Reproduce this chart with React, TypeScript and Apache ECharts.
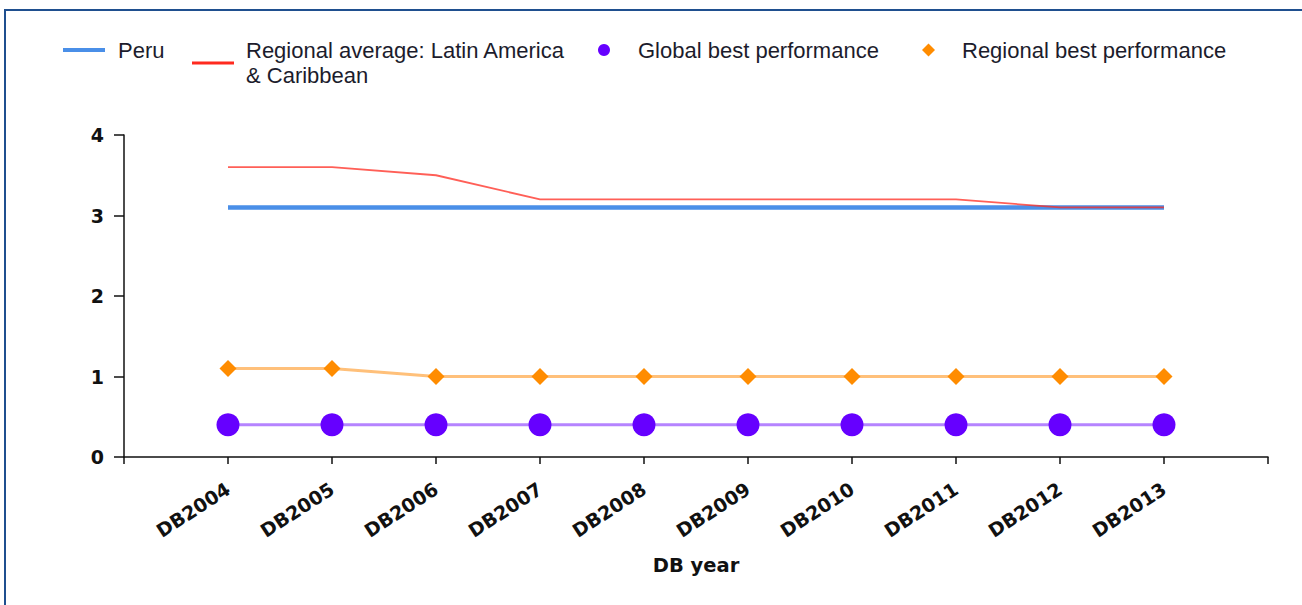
import React, { useEffect, useRef } from "react";
import * as echarts from "echarts";

const categories = ["DB2004", "DB2005", "DB2006", "DB2007", "DB2008", "DB2009", "DB2010", "DB2011", "DB2012", "DB2013"];
const peru = [3.1, 3.1, 3.1, 3.1, 3.1, 3.1, 3.1, 3.1, 3.1, 3.1];
const regionalAverage = [3.6, 3.6, 3.5, 3.2, 3.2, 3.2, 3.2, 3.2, 3.1, 3.1];
const globalBest = [0.4, 0.4, 0.4, 0.4, 0.4, 0.4, 0.4, 0.4, 0.4, 0.4];
const regionalBest = [1.1, 1.1, 1.0, 1.0, 1.0, 1.0, 1.0, 1.0, 1.0, 1.0];
const yTicks = [0, 1, 2, 3, 4];

const pad = (a: number[]) => ["-", ...a, "-"] as any[];

export default function App() {
  const ref = useRef<HTMLDivElement>(null);
  useEffect(() => {
    document.body.style.margin = "0";
    const chart = echarts.init(ref.current!, undefined, { renderer: "svg" });
    const legendFont = { fontFamily: "Liberation Sans", fontSize: 22, color: "#1c1c2c" };
    chart.setOption({
      animation: false,
      backgroundColor: "#ffffff",
      graphic: [
        {
          type: "rect",
          shape: { x: 5, y: 10, width: 1400, height: 700 },
          style: { fill: "none", stroke: "#1f4f8f", lineWidth: 2 },
          silent: true,
        },
      ],
      legend: [
        {
          data: ["Peru"], left: 63, top: 39, padding: 0, icon: "rect", itemWidth: 42, itemHeight: 4,
          textStyle: { ...legendFont, padding: [0, 0, 0, 8] },
        },
        {
          data: ["Regional average: Latin America\n& Caribbean"], left: 192, top: 38, padding: 0, icon: "rect", itemWidth: 42, itemHeight: 3,
          textStyle: { ...legendFont, lineHeight: 25, padding: [0, 0, 0, 7] },
        },
        {
          data: ["Global best performance"], left: 598, top: 39, padding: 0, icon: "circle", itemWidth: 12, itemHeight: 12,
          textStyle: { ...legendFont, padding: [0, 0, 0, 23] },
        },
        {
          data: ["Regional best performance"], left: 922, top: 39, padding: 0, icon: "diamond", itemWidth: 13, itemHeight: 13,
          textStyle: { ...legendFont, padding: [0, 0, 0, 22] },
        },
      ],
      grid: { left: 124, right: 34, top: 135, bottom: 148, containLabel: false },
      xAxis: {
        type: "category",
        boundaryGap: false,
        data: ["", ...categories, ""],
        name: "DB year",
        nameLocation: "middle",
        nameGap: 98,
        nameMoveOverlap: false,
        nameTextStyle: { fontFamily: "DejaVu Sans", fontWeight: "bold", fontSize: 19.5, color: "#111" },
        axisLine: { lineStyle: { color: "#111", width: 1.5 } },
        axisTick: { show: true, interval: 0, length: 7, lineStyle: { color: "#111", width: 1.5 } },
        axisLabel: {
          interval: 0, rotate: 33, margin: 30,
          fontFamily: "DejaVu Sans", fontWeight: "bold", fontSize: 19, color: "#111",
        },
        splitLine: { show: false },
      },
      yAxis: {
        type: "value",
        min: yTicks[0],
        max: yTicks[yTicks.length - 1],
        interval: 1,
        axisLine: { show: true, lineStyle: { color: "#111", width: 1.5 } },
        axisTick: { show: true, length: 10, lineStyle: { color: "#111", width: 1.5 } },
        axisLabel: { margin: 20, fontFamily: "DejaVu Sans", fontWeight: "bold", fontSize: 19, color: "#111" },
        splitLine: { show: false },
      },
      series: [
        {
          name: "Global best performance",
          type: "line",
          data: pad(globalBest),
          symbol: "circle",
          symbolSize: 23,
          itemStyle: { color: "#6600ff" },
          lineStyle: { color: "#b584ff", width: 3 },
        },
        {
          name: "Regional best performance",
          type: "line",
          data: pad(regionalBest),
          symbol: "diamond",
          symbolSize: 17,
          itemStyle: { color: "#ff8c00" },
          lineStyle: { color: "#ffc07a", width: 3 },
        },
        {
          name: "Peru",
          type: "line",
          data: pad(peru),
          symbol: "none",
          itemStyle: { color: "#4a8fe8" },
          lineStyle: { color: "#4a8fe8", width: 4.5 },
        },
        {
          name: "Regional average: Latin America\n& Caribbean",
          type: "line",
          data: pad(regionalAverage),
          symbol: "none",
          itemStyle: { color: "#ff2a1f" },
          lineStyle: { color: "#ff2a1f", width: 1.8, opacity: 0.75 },
        },
      ],
    });
    return () => chart.dispose();
  }, []);
  return <div ref={ref} style={{ position: "absolute", left: 0, top: 0, width: 1302, height: 605 }} />;
}
